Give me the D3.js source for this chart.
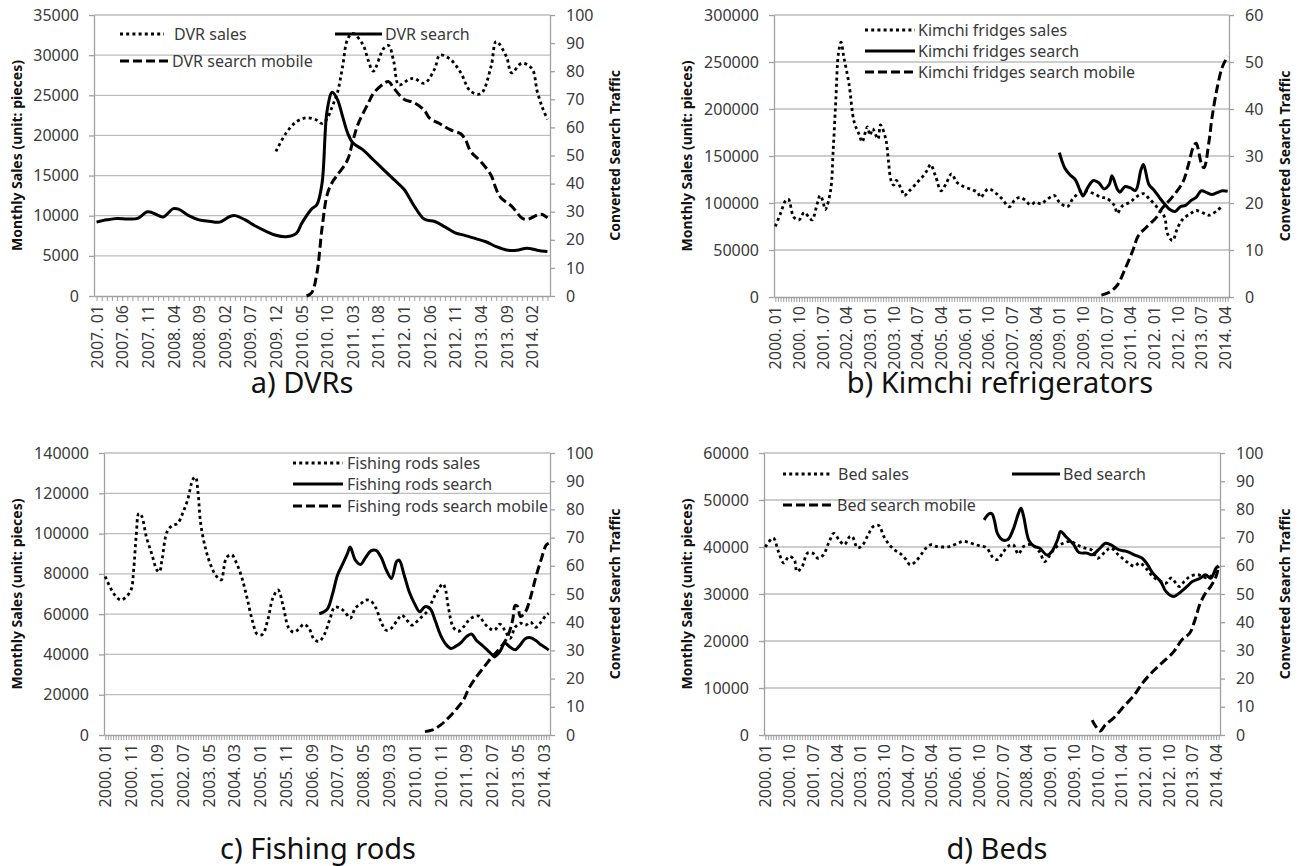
<!DOCTYPE html>
<html>
<head>
<meta charset="utf-8">
<script src="https://cdn.jsdelivr.net/npm/d3@7"></script>
<style>
  body { margin: 0; background: #fff; }
  svg text { font-family: "Noto Sans", sans-serif; }
</style>
</head>
<body>
<svg id="chart" width="1302" height="866"></svg>
<script>
// ---- values (month, value) ----
// sales on the left axis, search on the right axis

const dvrSales = [["2009.12",18000],["2010.02",20300],["2010.04",21700],["2010.06",22200],["2010.08",21900],["2010.09",21500],["2010.10",22100],["2010.11",23600],["2010.12",25300],["2011.01",28500],["2011.02",32000],["2011.03",32700],["2011.05",31300],["2011.06",29400],["2011.07",28000],["2011.09",30800],["2011.10",31200],["2011.11",29200],["2011.12",26300],["2012.02",27000],["2012.03",27100],["2012.05",26500],["2012.07",28300],["2012.08",30000],["2012.10",29500],["2012.12",27900],["2013.02",25500],["2013.04",25200],["2013.06",28600],["2013.07",31700],["2013.09",29800],["2013.10",27800],["2013.12",29000],["2014.02",28300],["2014.03",25500],["2014.04",23500],["2014.05",22000]];
const dvrSearch = [["2007.01",26.3],["2007.03",27.1],["2007.05",27.6],["2007.07",27.4],["2007.09",27.6],["2007.11",30.0],["2008.01",28.7],["2008.02",28.1],["2008.04",31.1],["2008.05",30.9],["2008.07",28.6],["2008.09",27.1],["2008.11",26.6],["2009.01",26.3],["2009.03",28.3],["2009.04",28.6],["2009.06",27.1],["2009.08",24.9],["2009.10",23.1],["2009.12",21.6],["2010.02",21.1],["2010.04",22.3],["2010.05",25.7],["2010.06",28.6],["2010.07",31],["2010.08",32.5],["2010.09",40],["2010.10",66],["2010.11",72.5],["2010.12",70],["2011.01",64],["2011.02",58],["2011.03",54.5],["2011.05",52],["2011.07",48.5],["2011.09",45],["2011.11",41.5],["2012.01",38],["2012.03",32],["2012.05",27.3],["2012.07",26.5],["2012.09",24.6],["2012.11",22.5],["2013.01",21.5],["2013.03",20.4],["2013.05",19.3],["2013.07",17.6],["2013.09",16.4],["2013.11",16.3],["2014.01",17],["2014.03",16.3],["2014.05",15.8]];
const dvrMobile = [["2010.06",0],["2010.07",1.2],["2010.08",8],["2010.09",24],["2010.10",36],["2010.11",40.5],["2010.12",43],["2011.02",48.5],["2011.03",55],["2011.04",61],["2011.06",68.5],["2011.07",72],["2011.09",75.5],["2011.10",76.3],["2011.11",74],["2012.01",70],["2012.03",68.8],["2012.05",66],["2012.06",63.3],["2012.08",61.3],["2012.10",59.2],["2012.12",57.8],["2013.01",55.6],["2013.02",51.5],["2013.04",47.8],["2013.06",43],["2013.07",38],["2013.08",34.8],["2013.10",32],["2013.12",27.8],["2014.01",27.2],["2014.03",28.8],["2014.04",29],["2014.05",27.8]];

const kimchiSales = [["2000.01",75000],["2000.03",89000],["2000.05",103000],["2000.06",104000],["2000.08",85000],["2000.10",82000],["2000.12",90000],["2001.02",84000],["2001.03",82000],["2001.05",100000],["2001.06",108000],["2001.07",103000],["2001.08",93000],["2001.10",113000],["2001.11",156000],["2001.12",209000],["2002.01",259000],["2002.02",271000],["2002.03",256000],["2002.05",227000],["2002.07",186000],["2002.09",172000],["2002.10",165000],["2002.12",181000],["2003.01",172000],["2003.02",179000],["2003.04",168000],["2003.05",183000],["2003.07",168000],["2003.08",145000],["2003.09",124000],["2003.10",119000],["2003.11",124000],["2004.01",114000],["2004.02",108000],["2004.04",113000],["2004.07",122000],["2004.09",128000],["2004.11",136000],["2004.12",141000],["2005.02",128000],["2005.04",113000],["2005.06",121000],["2005.08",131000],["2005.10",122000],["2006.01",117000],["2006.04",114000],["2006.06",111000],["2006.07",106000],["2006.10",115000],["2007.01",110000],["2007.03",105000],["2007.06",96000],["2007.08",103000],["2007.10",106000],["2007.12",103000],["2008.02",98000],["2008.04",101000],["2008.06",99000],["2008.08",103000],["2008.11",108000],["2009.01",101000],["2009.04",96000],["2009.06",104000],["2009.09",112000],["2009.11",113000],["2010.02",110000],["2010.05",106000],["2010.07",105000],["2010.10",97000],["2010.11",89000],["2011.01",97000],["2011.04",101000],["2011.06",106000],["2011.09",110000],["2011.11",105000],["2012.02",96000],["2012.05",85000],["2012.06",68000],["2012.08",60000],["2012.10",74000],["2012.12",83000],["2013.03",89000],["2013.05",92000],["2013.08",89000],["2013.10",87000],["2014.01",92000],["2014.03",97000]];
const kimchiSearch = [["2009.01",30.7],["2009.03",27.5],["2009.05",26],["2009.07",25],["2009.09",22.5],["2009.10",21.5],["2009.12",23.5],["2010.02",24.8],["2010.04",24.3],["2010.06",23],["2010.08",24],["2010.09",25.8],["2010.11",23],["2010.12",22.3],["2011.02",23.5],["2011.04",23.2],["2011.06",22.7],["2011.08",27],["2011.09",28.2],["2011.11",24],["2012.01",22.7],["2012.03",21.2],["2012.05",19.8],["2012.07",18.6],["2012.09",18.2],["2012.11",19.2],["2013.01",19.5],["2013.03",20.5],["2013.05",21.2],["2013.07",22.6],["2013.09",22.2],["2013.11",21.8],["2014.01",22.2],["2014.03",22.6],["2014.05",22.5]];
const kimchiMobile = [["2010.05",0.4],["2010.08",1],["2010.11",2.5],["2011.02",6],["2011.05",10],["2011.07",13],["2011.10",14.8],["2012.02",17],["2012.04",18.8],["2012.08",21.3],["2012.12",24.5],["2013.02",28],["2013.04",32],["2013.05",32.7],["2013.07",28.4],["2013.08",27.5],["2013.10",33.5],["2013.11",38],["2014.01",44.5],["2014.03",49],["2014.05",51.2]];

const fishingSales = [["2000.01",78700],["2000.03",73000],["2000.05",69000],["2000.07",67000],["2000.09",68500],["2000.11",72000],["2000.12",82000],["2001.01",99000],["2001.02",110000],["2001.03",109000],["2001.05",98000],["2001.07",90000],["2001.09",82000],["2001.10",81000],["2001.11",87000],["2002.01",101000],["2002.03",104000],["2002.05",105000],["2002.07",110000],["2002.09",117000],["2002.11",127000],["2002.12",128000],["2003.01",120000],["2003.02",105000],["2003.04",92000],["2003.06",84000],["2003.08",79000],["2003.10",77000],["2003.11",83000],["2003.12",88000],["2004.02",89500],["2004.04",85000],["2004.06",78000],["2004.08",68000],["2004.10",57000],["2004.12",50000],["2005.02",50000],["2005.04",57000],["2005.06",68000],["2005.08",72000],["2005.10",64000],["2005.12",53500],["2006.02",51000],["2006.04",52500],["2006.06",55000],["2006.08",53000],["2006.10",47500],["2006.12",46500],["2007.02",50000],["2007.04",57000],["2007.06",63500],["2007.08",63000],["2007.10",61000],["2007.12",58000],["2008.02",63000],["2008.04",65000],["2008.06",67000],["2008.08",66500],["2008.10",63000],["2008.12",56000],["2009.02",52000],["2009.04",53000],["2009.06",56500],["2009.08",59500],["2009.10",57000],["2009.12",54500],["2010.02",56500],["2010.04",59000],["2010.06",61500],["2010.08",67000],["2010.10",72000],["2010.12",75000],["2011.01",72000],["2011.02",64000],["2011.04",53500],["2011.06",51500],["2011.08",53700],["2011.10",57000],["2011.12",58700],["2012.02",59000],["2012.04",55500],["2012.06",53000],["2012.08",52000],["2012.10",55000],["2012.12",52000],["2013.02",48000],["2013.04",53500],["2013.06",55500],["2013.08",54500],["2013.10",56000],["2013.12",53500],["2014.02",56000],["2014.04",59500],["2014.05",60300]];
const fishingSearch = [["2006.12",43],["2007.03",44.5],["2007.05",49.5],["2007.07",56.5],["2007.09",60.5],["2007.11",64.5],["2007.12",66.7],["2008.02",62],["2008.04",60.5],["2008.06",63],["2008.08",65.3],["2008.10",65.5],["2008.12",63],["2009.02",58.5],["2009.04",55.5],["2009.06",61.5],["2009.07",62],["2009.09",56.5],["2009.11",50.5],["2010.01",46.5],["2010.03",43.7],["2010.05",45.5],["2010.07",44.8],["2010.09",40.5],["2010.11",35.5],["2011.01",32.3],["2011.03",30.7],["2011.05",31.5],["2011.07",32.8],["2011.09",34.8],["2011.11",35.8],["2012.01",33.5],["2012.03",32],["2012.05",30.3],["2012.07",28.5],["2012.08",27.7],["2012.10",29.5],["2012.12",32.5],["2013.02",31.2],["2013.04",30.2],["2013.06",32],["2013.08",34.2],["2013.10",34.5],["2013.12",33.5],["2014.02",32],["2014.04",30.8],["2014.05",30.1]];
const fishingMobile = [["2010.05",1.2],["2010.08",1.8],["2010.11",3.5],["2011.02",6],["2011.05",9],["2011.08",12.5],["2011.10",16.5],["2012.01",20.7],["2012.04",24.2],["2012.07",27.7],["2012.10",30.7],["2013.01",34.8],["2013.03",40.7],["2013.04",46],["2013.05",45.5],["2013.06",42],["2013.08",43.7],["2013.10",49],["2013.12",56],["2014.02",62],["2014.04",67.3],["2014.05",68]];

const bedSales = [["2000.01",40000],["2000.04",41900],["2000.06",39000],["2000.08",36600],["2000.10",38000],["2000.12",37300],["2001.01",34800],["2001.03",35900],["2001.05",38700],["2001.07",38700],["2001.09",37600],["2001.11",38300],["2002.01",40800],["2002.03",42900],["2002.05",41500],["2002.07",40500],["2002.09",42200],["2002.10",42200],["2002.12",39800],["2003.02",40500],["2003.04",42600],["2003.06",44400],["2003.08",44600],["2003.10",42200],["2003.12",40500],["2004.02",39400],["2004.04",38700],["2004.06",37600],["2004.08",36200],["2004.10",36900],["2004.12",38300],["2005.02",39800],["2005.04",40500],["2005.06",40100],["2005.09",40000],["2005.11",40100],["2006.02",40800],["2006.04",41200],["2006.07",40800],["2006.10",40300],["2007.01",39800],["2007.03",38000],["2007.05",37300],["2007.07",38700],["2007.09",40100],["2007.11",40500],["2008.01",38500],["2008.03",40100],["2008.06",40500],["2008.09",39000],["2008.11",36900],["2009.01",38300],["2009.03",39800],["2009.06",40800],["2009.09",41200],["2009.11",40500],["2010.02",39800],["2010.05",39300],["2010.07",37600],["2010.10",39000],["2010.12",39800],["2011.03",38300],["2011.06",36900],["2011.09",35900],["2011.11",36600],["2012.02",35100],["2012.04",33700],["2012.07",32700],["2012.09",32300],["2012.11",33400],["2013.02",31600],["2013.04",32700],["2013.06",33700],["2013.09",34100],["2013.11",33700],["2014.01",33400],["2014.03",34400],["2014.05",35900]];
const bedSearch = [["2006.12",76.3],["2007.02",78.5],["2007.03",78.4],["2007.04",75.7],["2007.05",71.6],["2007.07",69.2],["2007.09",69.3],["2007.11",72.8],["2008.01",78.5],["2008.02",80.5],["2008.03",77.5],["2008.05",69],["2008.07",66.9],["2008.09",66.3],["2008.12",63.8],["2009.02",65.5],["2009.04",69.5],["2009.05",72.2],["2009.07",70.4],["2009.10",67.5],["2009.12",64.7],["2010.03",64.5],["2010.05",63.9],["2010.08",66.3],["2010.10",68],["2010.12",67.5],["2011.03",65.7],["2011.06",65.1],["2011.09",63.9],["2011.12",62.7],["2012.02",60.4],["2012.04",57.4],["2012.07",54.4],["2012.09",50.9],["2012.12",49.1],["2013.02",50.3],["2013.05",52.7],["2013.07",54.4],["2013.10",55.6],["2013.12",56.8],["2014.02",55.6],["2014.04",59.2],["2014.05",60]];
const bedMobile = [["2010.05",5.3],["2010.06",3.6],["2010.08",1.4],["2010.10",3.6],["2011.01",5.9],["2011.05",10.1],["2011.09",14.2],["2011.12",18.3],["2012.04",22.5],["2012.08",26],["2012.12",29.6],["2013.03",33.7],["2013.06",36.1],["2013.08",40.8],["2013.10",46.7],["2013.12",50.3],["2014.02",52.7],["2014.04",56.2],["2014.05",60]];

// labelled categories on each x axis
const dvrTicks = ["2007.01","2007.06","2007.11","2008.04","2008.09","2009.02","2009.07","2009.12","2010.05","2010.10","2011.03","2011.08","2012.01","2012.06","2012.11","2013.04","2013.09","2014.02"];
const kimchiTicks = ["2000.01","2000.10","2001.07","2002.04","2003.01","2003.10","2004.07","2005.04","2006.01","2006.10","2007.07","2008.04","2009.01","2009.10","2010.07","2011.04","2012.01","2012.10","2013.07","2014.04"];
const fishingTicks = ["2000.01","2000.11","2001.09","2002.07","2003.05","2004.03","2005.01","2005.11","2006.09","2007.07","2008.05","2009.03","2010.01","2010.11","2011.09","2012.07","2013.05","2014.03"];
const bedTicks = kimchiTicks;

// ---- layout ----
const svg = d3.select("#chart");
const GRID = "#bdbdbd", AXIS = "#a0a0a0", TXT = "#3a3a3a";

function monthRange(from, to) {
  // category list "YYYY.MM" between two months (inclusive)
  let out = [];
  let [y, m] = from.split(".").map(Number);
  const [y2, m2] = to.split(".").map(Number);
  while (y < y2 || (y === y2 && m <= m2)) {
    out.push(y + "." + String(m).padStart(2, "0"));
    m++; if (m > 12) { m = 1; y++; }
  }
  return out;
}

const dash = { sales: "3,3.2", search: null, mobile: "9,4" };

function drawPanel(p) {
  const months = monthRange(p.from, "2014.05");
  const x = d3.scalePoint().domain(months).range([p.left, p.right]).padding(0.5);
  const yL = d3.scaleLinear().domain([0, p.leftMax]).range([p.bottom, p.top]);
  const yR = d3.scaleLinear().domain([0, p.rightMax]).range([p.bottom, p.top]);
  const g = svg.append("g");

  // gridlines (left axis)
  const leftTicks = d3.range(0, p.leftMax + 1, p.leftStep);
  g.append("g").selectAll("line").data(leftTicks.slice(1)).join("line")
    .attr("x1", p.left).attr("x2", p.right)
    .attr("y1", d => yL(d)).attr("y2", d => yL(d))
    .attr("stroke", GRID).attr("stroke-width", 1.3);

  // left axis
  const ax = g.append("g").attr("transform", `translate(${p.left},0)`)
    .call(d3.axisLeft(yL).tickValues(leftTicks).tickSize(5).tickSizeOuter(0).tickPadding(10).tickFormat(d3.format("d")));
  // right axis
  const ar = g.append("g").attr("transform", `translate(${p.right},0)`)
    .call(d3.axisRight(yR).tickValues(d3.range(0, p.rightMax + 1, 10)).tickSize(5).tickSizeOuter(0).tickPadding(11));
  // x axis: one tick per month, labels on every n-th month
  const xa = g.append("g").attr("transform", `translate(0,${p.bottom})`)
    .call(d3.axisBottom(x).tickSize(5).tickSizeOuter(0)
      .tickFormat(d => p.ticks.includes(d) ? d.replace(".", ". ") : ""));
  xa.selectAll(".tick text")
    .attr("transform", "rotate(-90)")
    .attr("text-anchor", "end")
    .attr("x", -9).attr("y", 0).attr("dy", "0.35em");

  [ax, ar, xa].forEach(a => {
    a.select(".domain").attr("stroke", AXIS).attr("stroke-width", 1.3);
    a.selectAll(".tick line").attr("stroke", AXIS).attr("stroke-width", 1);
    a.selectAll("text").attr("fill", TXT).attr("font-size", 16).attr("font-family", "Noto Sans");
  });
  ax.selectAll(".tick line").attr("stroke-width", 1.3);
  ar.selectAll(".tick line").attr("stroke-width", 1.3);

  // axis titles
  g.append("text")
    .attr("transform", `translate(${p.leftTitleX},${(p.top + p.bottom) / 2}) rotate(-90)`)
    .attr("text-anchor", "middle").attr("dy", "0.35em")
    .attr("font-size", 14).attr("font-weight", "bold").attr("fill", "#111")
    .text("Monthly Sales (unit: pieces)");
  g.append("text")
    .attr("transform", `translate(${p.rightTitleX},${(p.top + p.bottom) / 2}) rotate(-90)`)
    .attr("text-anchor", "middle").attr("dy", "0.35em")
    .attr("font-size", 14).attr("font-weight", "bold").attr("fill", "#111")
    .text("Converted Search Traffic");

  // series
  const series = [
    { key: "sales", data: p.sales, y: yL },
    { key: "search", data: p.search, y: yR },
    { key: "mobile", data: p.mobile, y: yR }
  ];
  series.forEach(s => {
    const line = d3.line().x(d => x(d[0])).y(d => s.y(d[1])).curve(d3.curveCatmullRom.alpha(0.5));
    g.append("path").datum(s.data)
      .attr("d", line)
      .attr("fill", "none").attr("stroke", "#000")
      .attr("stroke-width", s.key === "sales" ? 2.8 : 3)
      .attr("stroke-dasharray", dash[s.key])
      .attr("stroke-linejoin", "round");
  });

  // legend
  p.legend.forEach(l => {
    g.append("line")
      .attr("x1", l.x).attr("x2", l.x + l.len).attr("y1", l.y).attr("y2", l.y)
      .attr("stroke", "#000").attr("stroke-width", 3)
      .attr("stroke-dasharray", dash[l.key]);
    g.append("text")
      .attr("x", l.x + l.len + l.gap).attr("y", l.y).attr("dy", "0.35em")
      .attr("font-size", 16).attr("fill", TXT)
      .text(l.text);
  });

  // panel caption
  svg.append("text")
    .attr("x", p.capX).attr("y", p.capY)
    .attr("text-anchor", "middle").attr("font-size", 29).attr("fill", "#111")
    .text(p.caption);
}

drawPanel({
  from: "2007.01", left: 94, right: 550, top: 15, bottom: 296,
  leftMax: 35000, leftStep: 5000, rightMax: 100, ticks: dvrTicks,
  sales: dvrSales, search: dvrSearch, mobile: dvrMobile,
  leftTitleX: 17, rightTitleX: 615, capX: 302, capY: 393, caption: "a) DVRs",
  legend: [
    { key: "sales", x: 120, y: 34, len: 44, gap: 10, text: "DVR sales" },
    { key: "mobile", x: 120, y: 61, len: 48, gap: 4, text: "DVR search mobile" },
    { key: "search", x: 335, y: 34, len: 47, gap: 3, text: "DVR search" }
  ]
});

drawPanel({
  from: "2000.01", left: 774, right: 1229, top: 15, bottom: 297,
  leftMax: 300000, leftStep: 50000, rightMax: 60, ticks: kimchiTicks,
  sales: kimchiSales, search: kimchiSearch, mobile: kimchiMobile,
  leftTitleX: 687, rightTitleX: 1285, capX: 1000, capY: 393, caption: "b) Kimchi refrigerators",
  legend: [
    { key: "sales", x: 865, y: 30, len: 50, gap: 3, text: "Kimchi fridges sales" },
    { key: "search", x: 865, y: 51, len: 50, gap: 3, text: "Kimchi fridges search" },
    { key: "mobile", x: 865, y: 72, len: 50, gap: 3, text: "Kimchi fridges search mobile" }
  ]
});

drawPanel({
  from: "2000.01", left: 104, right: 550, top: 453, bottom: 735,
  leftMax: 140000, leftStep: 20000, rightMax: 100, ticks: fishingTicks,
  sales: fishingSales, search: fishingSearch, mobile: fishingMobile,
  leftTitleX: 17, rightTitleX: 615, capX: 318, capY: 859, caption: "c) Fishing rods",
  legend: [
    { key: "sales", x: 293, y: 463, len: 50, gap: 4, text: "Fishing rods sales" },
    { key: "search", x: 293, y: 484, len: 50, gap: 4, text: "Fishing rods search" },
    { key: "mobile", x: 293, y: 506, len: 50, gap: 4, text: "Fishing rods search mobile" }
  ]
});

drawPanel({
  from: "2000.01", left: 764, right: 1220, top: 453, bottom: 735,
  leftMax: 60000, leftStep: 10000, rightMax: 100, ticks: bedTicks,
  sales: bedSales, search: bedSearch, mobile: bedMobile,
  leftTitleX: 687, rightTitleX: 1285, capX: 997, capY: 859, caption: "d) Beds",
  legend: [
    { key: "sales", x: 783, y: 474, len: 47, gap: 8, text: "Bed sales" },
    { key: "mobile", x: 783, y: 505, len: 50, gap: 4, text: "Bed search mobile" },
    { key: "search", x: 1012, y: 474, len: 48, gap: 3, text: "Bed search" }
  ]
});
</script>
</body>
</html>
